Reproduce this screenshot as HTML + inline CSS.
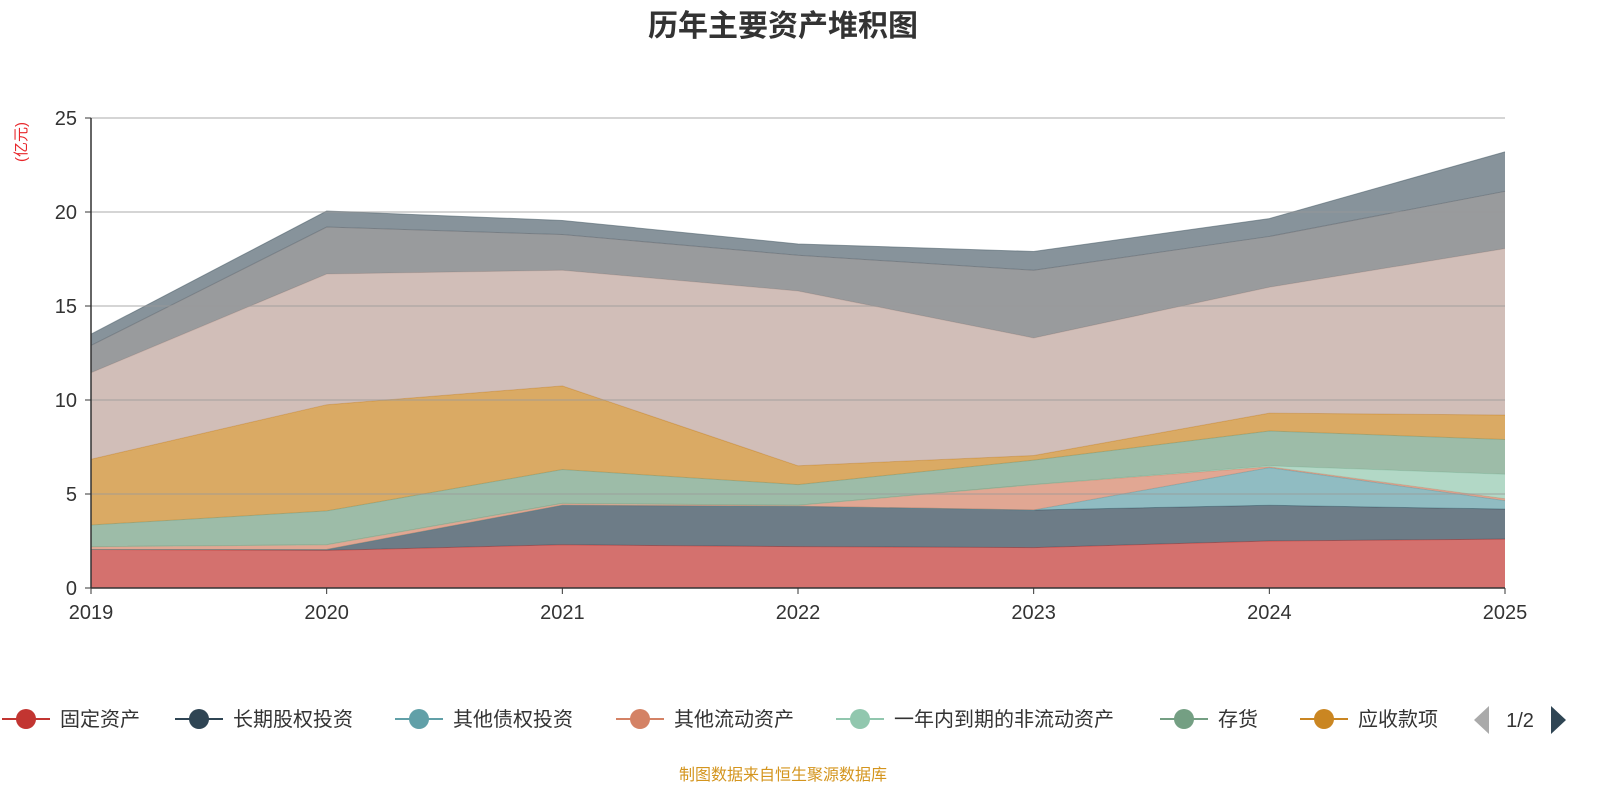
<!DOCTYPE html>
<html><head><meta charset="utf-8"><style>
body{margin:0;background:#fff;}
svg{display:block;font-family:"Liberation Sans","Noto Sans CJK SC",sans-serif;}
</style></head><body>
<svg id="chart" width="1600" height="800">
<text x="783" y="36" text-anchor="middle" font-size="30" font-weight="bold" fill="#333">历年主要资产堆积图</text>
<text transform="translate(26,142) rotate(-90)" text-anchor="middle" font-size="15" fill="#e8262a">(亿元)</text>
<g id="areas"></g><g id="grid"></g><g id="axes"></g><g id="legend"></g>
<text x="783" y="780" text-anchor="middle" font-size="16" fill="#d4951e">制图数据来自恒生聚源数据库</text>
</svg>
<script>
const years=["2019","2020","2021","2022","2023","2024","2025"];
const yTicks=[0,5,10,15,20,25];
const seriesNames=["固定资产","长期股权投资","其他债权投资","其他流动资产","一年内到期的非流动资产","存货","应收款项","货币资金","其他非流动资产","无形资产"];
const s0=[2.05,2.0,2.3,2.2,2.15,2.5,2.6];
const s1=[0,0.05,2.1,2.15,2.0,1.9,1.6];
const s2=[0,0,0,0,0,2.0,0.45];
const s3=[0.15,0.25,0.1,0.05,1.35,0.05,0.1];
const s4=[0,0,0,0,0,0.05,1.3];
const s5=[1.15,1.8,1.8,1.1,1.3,1.85,1.85];
const s6=[3.5,5.65,4.45,1.0,0.25,0.95,1.3];
const s7=[4.6,6.95,6.15,9.3,6.25,6.7,8.85];
const s8=[1.45,2.5,1.9,1.9,3.6,2.7,3.05];
const s9=[0.6,0.85,0.75,0.6,1.0,0.95,2.1];
const series=[s0,s1,s2,s3,s4,s5,s6,s7,s8,s9];
const colors=["#c23531","#2f4554","#61a0a8","#d48265","#91c7ae","#749f83","#ca8622","#bda29a","#6e7074","#546570"];
const NS="http://www.w3.org/2000/svg";
const X0=91,X1=1505,Y0=588,Y1=118;
const xs=i=>X0+(X1-X0)*i/(years.length-1);
const ys=v=>Y0-(Y0-Y1)*v/25;
function mk(tag,attrs,parent){const e=document.createElementNS(NS,tag);for(const k in attrs)e.setAttribute(k,attrs[k]);parent.appendChild(e);return e;}
const areas=document.getElementById('areas'),grid=document.getElementById('grid'),axes=document.getElementById('axes'),legend=document.getElementById('legend');
let base=years.map(()=>0);
series.forEach((s,k)=>{
  const top=base.map((b,i)=>b+s[i]);
  let d="M"+top.map((v,i)=>xs(i)+","+ys(v)).join("L");
  for(let i=years.length-1;i>=0;i--)d+="L"+xs(i)+","+ys(base[i]);
  d+="Z";
  const p=mk('path',{d:d,fill:colors[k],'fill-opacity':0.7},areas);
  
  
  const l=mk('polyline',{points:top.map((v,i)=>xs(i)+","+ys(v)).join(" "),fill:"none",stroke:colors[k],'stroke-opacity':0.6,'stroke-width':1},areas);
  
  
  base=top;
});
yTicks.forEach(t=>{
  if(t>0){const g=mk('line',{x1:X0,x2:X1,y1:ys(t),y2:ys(t),stroke:"#999",'stroke-opacity':0.55,'stroke-width':1.5},grid);
  
  }
  const tk=mk('line',{x1:X0-6,x2:X0,y1:ys(t),y2:ys(t),stroke:"#333"},axes);
  
  
  const tx=mk('text',{x:X0-14,y:ys(t)+7,'text-anchor':'end','font-size':20,fill:'#333'},axes);
  tx.textContent=t;
  
  
});
const ya=mk('line',{x1:X0,x2:X0,y1:Y1,y2:Y0,stroke:"#333",'stroke-width':1.5},axes);


const xa=mk('line',{x1:X0,x2:X1,y1:Y0,y2:Y0,stroke:"#333",'stroke-width':1.5},axes);


years.forEach((y,i)=>{
  const tk=mk('line',{x1:xs(i),x2:xs(i),y1:Y0,y2:Y0+6,stroke:"#333"},axes);
  
  
  const tx=mk('text',{x:xs(i),y:Y0+31,'text-anchor':'middle','font-size':20,fill:'#333'},axes);
  tx.textContent=y;
  
  
});
const legX=[2,175,395,616,836,1160,1300];
for(let k=0;k<7;k++){
  const g=mk('g',{},legend);
  
  
  mk('line',{x1:legX[k],x2:legX[k]+48,y1:719,y2:719,stroke:colors[k],'stroke-width':2},g);
  mk('circle',{cx:legX[k]+24,cy:719,r:10,fill:colors[k]},g);
  const t=mk('text',{x:legX[k]+58,y:726,'font-size':20,fill:'#333'},g);
  t.textContent=seriesNames[k];
}
const pv=mk('path',{d:"M1489,706 L1489,734 L1474,720 Z",fill:"#aaa"},legend);


const pg=mk('text',{x:1520,y:727,'text-anchor':'middle','font-size':20,fill:'#333'},legend);
pg.textContent="1/2";


const nx=mk('path',{d:"M1551,706 L1551,734 L1566,720 Z",fill:"#2f4554"},legend);


</script>
</body></html>
